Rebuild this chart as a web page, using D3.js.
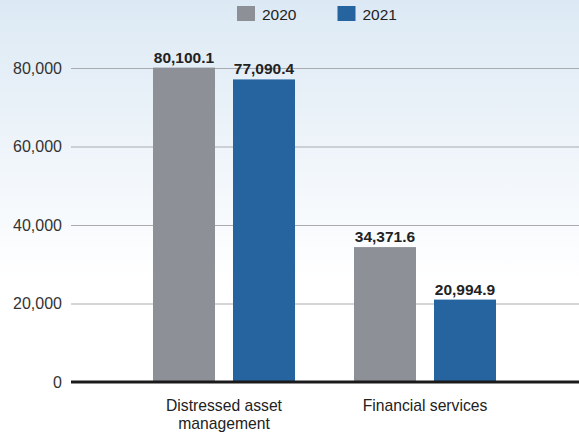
<!DOCTYPE html>
<head>
<meta charset="utf-8">
<script src="https://d3js.org/d3.v7.min.js"></script>
<style>
body { margin: 0; }
svg { display: block; font-family: "Liberation Sans", Arial, sans-serif; }
.y-axis path { display: none; }
.y-axis line { stroke: #a9abae; }
.y-axis text { fill: #333; font-size: 16px; }
</style>
</head>
<body>
<svg id="chart" width="579" height="434"></svg>
<script>
// data
var categories = [["Distressed asset", "management"], ["Financial services"]];
var years = ["2020", "2021"];
var values2020 = [80100.1, 34371.6];
var values2021 = [77090.4, 20994.9];
var yTicks = [0, 20000, 40000, 60000, 80000];

var colors = {"2020": "#8d9097", "2021": "#25649f"};

var svg = d3.select("#chart"),
    width = +svg.attr("width"),
    height = +svg.attr("height");

var defs = svg.append("defs");
var grad = defs.append("linearGradient")
    .attr("id", "bg").attr("x1", 0).attr("y1", 0).attr("x2", 0).attr("y2", 1);
grad.append("stop").attr("offset", "0%").attr("stop-color", "#dce9f4");
grad.append("stop").attr("offset", "65%").attr("stop-color", "#ffffff");
svg.append("rect").attr("width", width).attr("height", height).attr("fill", "url(#bg)");

var keys = categories.map(c => c.join(" "));
var rows = keys.map((k, i) => ({key: k, lines: categories[i], "2020": values2020[i], "2021": values2021[i]}));

var x0 = d3.scaleBand()
    .domain(keys)
    .range([123.5, 525.5])
    .paddingInner(0.2935)
    .paddingOuter(0.1468);

var x1 = d3.scaleBand()
    .domain(years)
    .range([0, x0.bandwidth()])
    .paddingInner(0.225);

var y = d3.scaleLinear()
    .domain([0, 80000])
    .range([382, 68]);

// grid + y labels
var left = 71;
svg.append("g")
    .attr("class", "y-axis")
    .attr("transform", "translate(" + left + ",0)")
    .call(d3.axisLeft(y).tickValues(yTicks).tickFormat(d3.format(",")).tickSize(-(width - left)).tickPadding(9))
    .call(g => g.selectAll(".tick line").attr("x1", 0));

// bars
var group = svg.selectAll(".cat")
    .data(rows)
    .enter().append("g")
    .attr("transform", d => "translate(" + x0(d.key) + ",0)");

group.selectAll("rect")
    .data(d => years.map(yr => ({year: yr, value: d[yr]})))
    .enter().append("rect")
    .attr("x", d => x1(d.year))
    .attr("width", x1.bandwidth())
    .attr("y", d => y(d.value))
    .attr("height", d => y(0) - y(d.value))
    .attr("fill", d => colors[d.year]);

group.selectAll(".val")
    .data(d => years.map(yr => ({year: yr, value: d[yr]})))
    .enter().append("text")
    .attr("class", "val")
    .attr("x", d => x1(d.year) + x1.bandwidth() / 2)
    .attr("y", d => y(d.value) - 5)
    .attr("text-anchor", "middle")
    .attr("font-size", 15.5)
    .attr("font-weight", "bold")
    .attr("fill", "#222")
    .text(d => d3.format(",.1f")(d.value));

// baseline
svg.append("line")
    .attr("x1", left).attr("x2", width)
    .attr("y1", y(0)).attr("y2", y(0))
    .attr("stroke", "#1a1a1a").attr("stroke-width", 3);

// x labels
svg.selectAll(".xlab")
    .data(rows)
    .enter().append("text")
    .attr("class", "xlab")
    .attr("text-anchor", "middle")
    .attr("font-size", 15.7)
    .attr("fill", "#222")
    .attr("transform", d => "translate(" + (x0(d.key) + x0.bandwidth() / 2) + ",411)")
    .selectAll("tspan")
    .data(d => d.lines)
    .enter().append("tspan")
    .attr("x", 0)
    .attr("dy", (d, i) => i ? 18 : 0)
    .text(d => d);

// legend
var legend = svg.selectAll(".legend")
    .data(years)
    .enter().append("g")
    .attr("transform", (d, i) => "translate(" + (237 + i * 100.5) + ",6)");

legend.append("rect")
    .attr("width", 18).attr("height", 15)
    .attr("fill", d => colors[d]);

legend.append("text")
    .attr("x", 25).attr("y", 13.5)
    .attr("font-size", 15.5)
    .attr("fill", "#222")
    .text(d => d);
</script>
</body>
</html>
